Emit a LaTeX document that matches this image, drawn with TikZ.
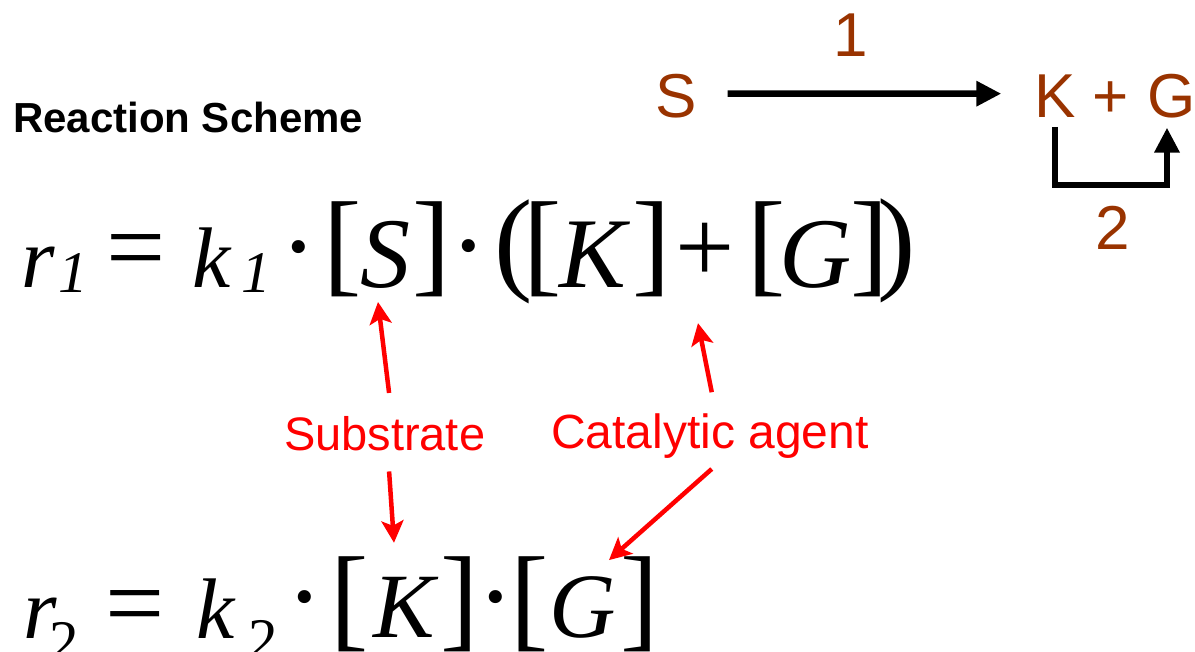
\documentclass[tikz,border=0pt]{standalone}
\usepackage{fontspec}
\setmainfont{Liberation Serif}
\newfontfamily\sansf{Liberation Sans}
\newfontfamily\serf{Liberation Serif}
\usetikzlibrary{arrows.meta}
\definecolor{rxbrown}{RGB}{153,51,0}
\definecolor{lblred}{RGB}{255,0,0}
\newcommand{\fs}[1]{\fontsize{#1}{#1}\selectfont}
\begin{document}
\begin{tikzpicture}[x=1pt,y=-1pt,
  g/.style={inner sep=0pt, outer sep=0pt},
  mi/.style={g, anchor=base, font=\serf\itshape\fs{#1}},
  mo/.style={g, font=\serf\fs{#1}},
  br/.style={g, anchor=base, text=rxbrown, font=\sansf\fs{#1}},
  lbl/.style={g, anchor=base west, text=lblred, font=\sansf\fs{#1}},
  blk/.style={line width=6.5pt, -{Triangle[length=25pt,width=24pt]}},
  redarr/.style={draw=lblred, line width=4.5pt, -{Stealth[length=22pt,width=22pt,inset=5pt]}}]
\useasboundingbox (0,0) rectangle (1195,652);
\clip (0,0) rectangle (1195,652);

% title
\node[g, anchor=base west, font=\sansf\bfseries\fs{42}] (title) at (13,133) {Reaction Scheme};

% reaction scheme
\node[br=62] (S) at (676,118) {S};
\node[br=62] (K) at (1055,118) {K};
\node[br=62] (plusT) at (1111,118) {+};
\node[br=62] (G) at (1172,118) {G};
\node[br=62] (n1) at (851,57) {1};
\node[br=62] (n2) at (1113,250) {2};
\draw[blk] ([xshift=31pt,yshift=3pt]S.east) -- ([xshift=-33pt,yshift=3pt]K.west);
\draw[blk] ([yshift=-9pt]K.south) -- ++(0,58) -| ([xshift=-5pt,yshift=-9pt]G.south);

% equation 1
\node[mi=86] (r1) at (38,288) {r};
\node[mi=59] (r1s) at (73.5,293) {1};
\node[mo=105] (eq1) at (136,259) {=};
\node[mi=86] (k1) at (212,288) {k};
\node[mi=59] (k1s) at (256,293) {1};
\node[mo=110] (d1) at (298.5,262) {·};
\node[mo=115, anchor=north] (lb1) at (343,202) {[};
\node[mi=100] (S1) at (385,288) {S};
\node[mo=115, anchor=north] (rb1) at (432,202) {]};
\node[mo=110] (d2) at (469,261) {·};
\node[mo=115, anchor=north] (lp1) at (514,200) {(};
\node[mo=115, anchor=north] (lb2) at (543,202) {[};
\node[mi=100] (K1) at (593,288) {K};
\node[mo=115, anchor=north] (rb2) at (652,202) {]};
\node[mo=105] (plus1) at (705.5,252.5) {+};
\node[mo=115, anchor=north] (lb3) at (767,202) {[};
\node[mi=100] (G1) at (816,288) {G};
\node[mo=115, anchor=north] (rb3) at (870,202) {]};
\node[mo=115, anchor=north] (rp1) at (897,199) {)};

% equation 2
\node[mi=86] (r2) at (40,638) {r};
\node[mo=59, anchor=north] (r2s) at (64,622) {2};
\node[mo=105] (eq2) at (135,615) {=};
\node[mi=86] (k2) at (216,638) {k};
\node[mo=59, anchor=north] (k2s) at (263.5,620) {2};
\node[mo=110] (d3) at (305,612) {·};
\node[mo=115, anchor=north] (lb4) at (350,557) {[};
\node[mi=92] (K2) at (404,637) {K};
\node[mo=115, anchor=north] (rb4) at (460,557) {]};
\node[mo=110] (d4) at (496,612) {·};
\node[mo=115, anchor=north] (lb5) at (530,557) {[};
\node[mi=92] (G2) at (583,637) {G};
\node[mo=115, anchor=north] (rb5) at (640,557) {]};

% labels
\node[lbl=47] (sub) at (284,450) {Substrate};
\node[lbl=48] (cat) at (551,448) {Catalytic agent};
\draw[redarr] ([xshift=4.5pt,yshift=23pt]sub.north) -- ([xshift=-7pt,yshift=-13pt]S1.south);
\draw[redarr] ([xshift=4.5pt,yshift=-21pt]sub.south) -- ([xshift=-10pt,yshift=34pt]K2.north);
\draw[redarr] ([xshift=2pt,yshift=21pt]cat.north) -- ([xshift=-7.5pt,yshift=-41pt]plus1.south);
\draw[redarr] ([xshift=2pt,yshift=-11pt]cat.south) -- ([xshift=26pt,yshift=16pt]G2.north);
\end{tikzpicture}
\end{document}
